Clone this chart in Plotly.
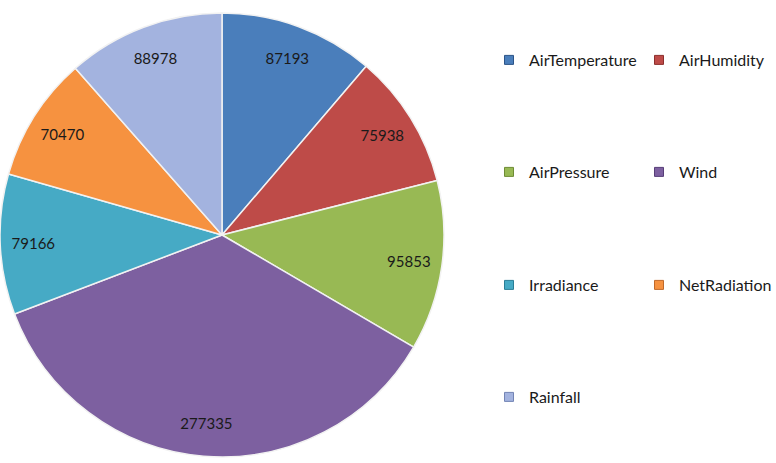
import plotly.graph_objects as go

# Sensor categories and their record counts
categories = ["AirTemperature", "AirHumidity", "AirPressure", "Wind",
              "Irradiance", "NetRadiation", "Rainfall"]
counts = [87193, 75938, 95853, 277335, 79166, 70470, 88978]
colors = ["#4A7EBB", "#BE4B48", "#98B954", "#7D60A0",
          "#46AAC5", "#F69240", "#A3B3DF"]
edge_colors = ["#2C5488", "#8C2F2D", "#6E8C35", "#573E78",
               "#2A7E96", "#C0692A", "#7384B4"]

# Legend layout: two entries per row, one legend per row
legend_rows = [["AirTemperature", "AirHumidity"],
               ["AirPressure", "Wind"],
               ["Irradiance", "NetRadiation"],
               ["Rainfall"]]

W, H = 776, 463
cx, cy, r = 222, 235, 222
pie_domain = dict(x=[(cx - r) / W, (cx + r) / W],
                  y=[(H - cy - r) / H, (H - cy + r) / H])

fig = go.Figure()

# Solid pie body
fig.add_trace(go.Pie(
    labels=categories, values=counts,
    sort=False, direction="clockwise", rotation=0,
    marker=dict(colors=colors, line=dict(color="#F2F2F2", width=1.5)),
    textinfo="none", showlegend=False, hoverinfo="label+value",
    domain=pie_domain,
))

# Transparent ring over the same slices, so value labels sit near the rim
fig.add_trace(go.Pie(
    labels=categories, values=counts,
    sort=False, direction="clockwise", rotation=0,
    hole=0.70,
    marker=dict(colors=["rgba(0,0,0,0)"] * len(categories), line=dict(width=0)),
    texttemplate="%{value:.0f}",
    textposition="inside",
    insidetextorientation="horizontal",
    textfont=dict(family="Lato, Open Sans, sans-serif", size=15, color="#1A1A1A"),
    showlegend=False, hoverinfo="skip",
    domain=pie_domain,
))

legend_ids = ["legend", "legend2", "legend3", "legend4"]
row_y = [60, 172, 285, 397]
for lid, row in zip(legend_ids, legend_rows):
    for name in row:
        i = categories.index(name)
        fig.add_trace(go.Scatter(
            x=[None], y=[None], mode="markers", name=name,
            marker=dict(symbol="square", size=9, color=colors[i],
                        line=dict(color=edge_colors[i], width=1)),
            legend=lid, showlegend=True, hoverinfo="skip",
        ))

legend_common = dict(
    orientation="h",
    entrywidth=105,
    entrywidthmode="pixels",
    itemwidth=30,
    bgcolor="rgba(0,0,0,0)",
    font=dict(family="Lato, Open Sans, sans-serif", size=16, color="#1A1A1A"),
    xanchor="left",
    yanchor="middle",
    x=489 / W,
)

layout_legends = {}
for lid, yy in zip(legend_ids, row_y):
    layout_legends[lid] = dict(legend_common, y=1 - yy / H)

fig.update_layout(
    width=W, height=H,
    margin=dict(l=0, r=0, t=0, b=0, autoexpand=False),
    paper_bgcolor="white",
    plot_bgcolor="white",
    xaxis=dict(visible=False),
    yaxis=dict(visible=False),
    **layout_legends,
)

fig.write_html("out.html")
